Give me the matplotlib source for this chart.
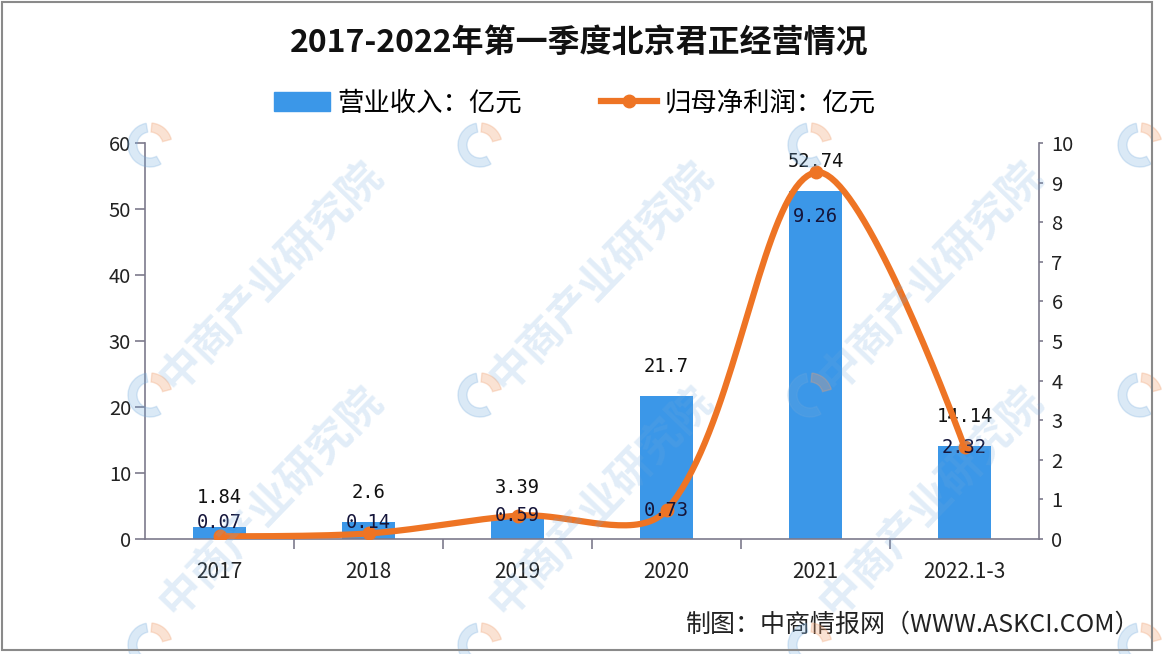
import matplotlib
matplotlib.use("Agg")
import matplotlib.pyplot as plt
import numpy as np
from matplotlib.patches import Rectangle, Wedge, Patch
from matplotlib.lines import Line2D
from matplotlib.transforms import IdentityTransform

plt.rcParams['font.family'] = ['Noto Sans CJK SC', 'DejaVu Sans']

# 数据
categories = ['2017', '2018', '2019', '2020', '2021', '2022.1-3']
revenue = [1.84, 2.6, 3.39, 21.7, 52.74, 14.14]        # 营业收入：亿元
net_profit = [0.07, 0.14, 0.59, 0.73, 9.26, 2.32]     # 归母净利润：亿元
revenue_labels = ['1.84', '2.6', '3.39', '21.7', '52.74', '14.14']
profit_labels = ['0.07', '0.14', '0.59', '0.73', '9.26', '2.32']
profit_label_dy = [10, 8, 0, 0, -32, 0]  # 标签偏移(pt)

BLUE = '#3b97e8'
ORANGE = '#ee7424'
AXIS = '#7d7a8c'

W, H = 1170, 654
fig = plt.figure(figsize=(W / 100, H / 100), dpi=100)
fig.patch.set_facecolor('white')

ax = fig.add_axes([145 / W, 1 - 539 / H, (1039 - 145) / W, (539 - 143) / H])
ax2 = ax.twinx()

x = np.arange(len(categories))
ax.bar(x, revenue, width=0.36, color=BLUE, zorder=2)
ax.set_xlim(-0.5, len(categories) - 0.5)
ax.set_ylim(0, 60)
ax.set_yticks(range(0, 61, 10))
ax2.set_ylim(0, 10)
ax2.set_yticks(range(0, 11, 1))

for xi, v, s in zip(x, revenue, revenue_labels):
    ax.annotate(s, (xi, v), xytext=(0, 21), textcoords='offset points',
                ha='center', va='center', fontsize=13.5,
                family='DejaVu Sans Mono', color='#111111', zorder=5)


def smooth(xs, ys, sx_px, sy_px, n=40, tension=1 / 3):
    # 平滑曲线 (类似 Excel 平滑线, 只用于绘制), 在像素尺度下计算
    pts = np.column_stack([np.asarray(xs) * sx_px, np.asarray(ys) * sy_px]).astype(float)
    m = len(pts)
    cin, cout = pts.copy(), pts.copy()
    for i in range(1, m - 1):
        tvec = pts[i + 1] - pts[i - 1]
        d0 = np.linalg.norm(pts[i] - pts[i - 1])
        d1 = np.linalg.norm(pts[i + 1] - pts[i])
        cin[i] = pts[i] - tvec * tension * d0 / (d0 + d1)
        cout[i] = pts[i] + tvec * tension * d1 / (d0 + d1)
    out = []
    t = np.linspace(0, 1, n)[:, None]
    for i in range(m - 1):
        p1, b1, b2, p2 = pts[i], cout[i], cin[i + 1], pts[i + 1]
        out.append(((1 - t) ** 3) * p1 + 3 * ((1 - t) ** 2) * t * b1
                   + 3 * (1 - t) * t ** 2 * b2 + t ** 3 * p2)
    c = np.vstack(out)
    return c[:, 0] / sx_px, c[:, 1] / sy_px


px_per_cat = (1039 - 145) / len(categories)
px_per_unit = (539 - 143) / 10
cx_s, cy_s = smooth(x, net_profit, px_per_cat, px_per_unit)
ax2.plot(cx_s, cy_s, color=ORANGE, lw=4.5, solid_capstyle='round', zorder=3)
ax2.plot(x, net_profit, 'o', color=ORANGE, ms=9, zorder=4)

for xi, v, s, dy in zip(x, net_profit, profit_labels, profit_label_dy):
    ax2.annotate(s, (xi, v), xytext=(0, dy), textcoords='offset points',
                 ha='center', va='center', fontsize=13.5,
                 family='DejaVu Sans Mono', color='#15153a', zorder=6)

# 坐标轴样式
for a in (ax, ax2):
    a.spines['top'].set_visible(False)
    for side in ('left', 'right', 'bottom'):
        a.spines[side].set_color(AXIS)
        a.spines[side].set_linewidth(1.2)
ax.spines['right'].set_visible(False)
ax2.spines['left'].set_visible(False)
ax2.spines['bottom'].set_visible(False)
ax.patch.set_alpha(0)

ax.set_xticks(x)
ax.set_xticklabels(categories, fontsize=15, color='#222222')
ax.set_xticks(np.arange(0.5, len(categories) - 1, 1), minor=True)
ax.tick_params(axis='x', which='major', length=0, pad=16)
ax.tick_params(axis='x', which='minor', length=7, color=AXIS, width=1.2)
ax.tick_params(axis='y', length=7, color=AXIS, width=1.2, labelsize=14.5,
               labelcolor='#222222', pad=3)
ax2.tick_params(axis='y', length=3, color=AXIS, width=1.2, labelsize=14.5,
                labelcolor='#222222', pad=6)

# 标题与图例
fig.text(579 / W, 1 - 44 / H, '2017-2022年第一季度北京君正经营情况',
         ha='center', va='center', fontsize=23, fontweight='bold', color='#111111')

handles = [Patch(color=BLUE),
           Line2D([0], [0], color=ORANGE, lw=4.5, marker='o', ms=9)]
fig.legend(handles, ['营业收入：亿元', '归母净利润：亿元'], loc='center',
           bbox_to_anchor=(575 / W, 1 - 103 / H), ncol=2, frameon=False,
           fontsize=19, handlelength=2.1, handletextpad=0.3, columnspacing=3.0)

fig.text(1140 / W, 1 - 625 / H, '制图：中商情报网（WWW.ASKCI.COM）',
         ha='right', va='center', fontsize=18, color='#222222')

# 水印
for wx in (270, 600, 930):
    for wy in (275, 500):
        fig.text(wx / W, 1 - wy / H, '中商产业研究院', ha='center', va='center',
                 rotation=46, fontsize=31, color='#6fa8dc', alpha=0.2,
                 fontweight='bold', zorder=10)
for wx in (270, 600, 930, 1260):
    for wy in (30, 280, 530):
        lx, ly = wx - 120, H - (wy + 115)
        fig.add_artist(Wedge((lx, ly), 22, 100, 300, width=9, color='#6fa8dc',
                             alpha=0.25, transform=IdentityTransform(), zorder=10))
        fig.add_artist(Wedge((lx, ly), 22, 15, 85, width=9, color='#f0a070',
                             alpha=0.3, transform=IdentityTransform(), zorder=10))

# 外框
fig.add_artist(Rectangle((2, 4), 1150, 648, fill=False, edgecolor='#8a8a8a',
                         lw=1.5, transform=IdentityTransform(), zorder=11))

fig.savefig('out.png', dpi=100)
